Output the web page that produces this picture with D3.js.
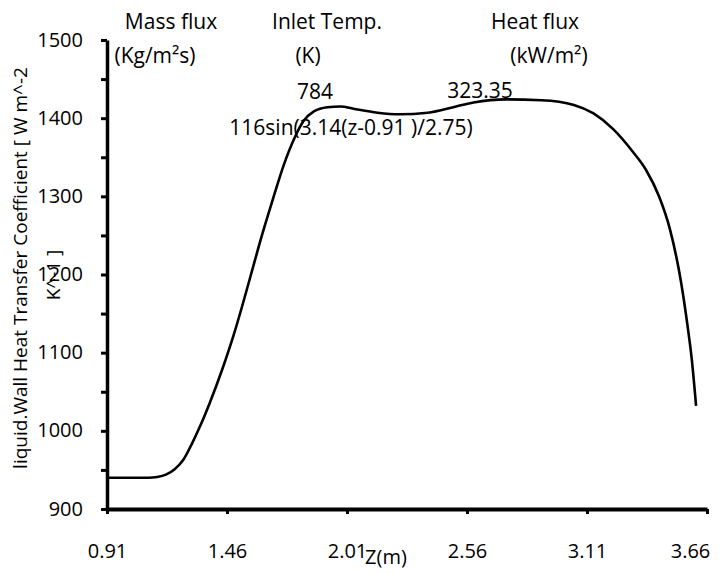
<!DOCTYPE html>
<html lang="en">
<head>
<meta charset="utf-8" />
<title>Wall heat transfer coefficient vs Z</title>
<style>
   body { margin:0; background:#fff; }
   svg { font-family:"Open Sans",sans-serif; }
   .axis path, .axis line { stroke:#000; }
   .axis text { font-size:20px; fill:#000; font-family:"Open Sans",sans-serif; }
   .note { font-size:21px; fill:#000; text-anchor:middle; }
   .title { font-size:19px; fill:#000; text-anchor:middle; }
</style>
<script src="https://d3js.org/d3.v7.min.js"></script>
</head>
<body>
<svg id="main" width="728" height="574"></svg>
<script>
// values: axial position z (m) and wall heat transfer coefficient
var zpos = [0.91,1.00,1.10,1.14,1.18,1.22,1.26,1.30,1.34,1.38,1.44,1.49,1.53,1.57,1.62,1.67,1.72,1.77,1.81,1.86,1.92,1.98,2.04,2.15,2.25,2.38,2.51,2.59,2.74,2.90,3.05,3.14,3.23,3.32,3.38,3.44,3.49,3.54,3.57,3.59,3.61];
var htc  = [940,940,940,941,944,951,963,984,1008,1035,1080,1122,1160,1200,1250,1296,1340,1375,1396,1409,1414,1415,1412,1407,1405,1407,1415,1420,1424,1423,1417,1406,1386,1357,1334,1300,1258,1192,1136,1092,1032];
var xticks = [0.91,1.46,2.01,2.56,3.11,3.66];
var yticks = d3.range(900,1501,50);

// annotation texts (condition labels)
var notes = [
   {t:'Mass flux', x:171, y:29},
   {t:'Inlet Temp.', x:327, y:29},
   {t:'Heat flux', x:535, y:29},
   {t:'(Kg/m²s)', x:155, y:63},
   {t:'(K)', x:308, y:63},
   {t:'(kW/m²)', x:549, y:63},
   {t:'784', x:315, y:99},
   {t:'323.35', x:480, y:98},
   {t:'116sin(3.14(z-0.91 )/2.75)', x:351, y:135}
];

var svg = d3.select('#main');
var x = d3.scaleLinear().domain([0.91,3.66]).range([107,707]);
var y = d3.scaleLinear().domain([900,1500]).range([509,40]);

//y axis, labels only every 100
var gy = svg.append('g').attr('class','axis').attr('transform','translate(107,0)')
   .call(d3.axisLeft(y).tickValues(yticks).tickSize(6).tickSizeOuter(0).tickPadding(18)
      .tickFormat(function(d) { return d%100===0 ? d : ''; }));
gy.select('path').style('stroke-width',3.5);
gy.selectAll('line').style('stroke-width',3);
gy.selectAll('text').attr('dy','0.3em');

//x axis
var gx = svg.append('g').attr('class','axis').attr('transform','translate(0,509)')
   .call(d3.axisBottom(x).tickValues(xticks).tickSize(5).tickSizeOuter(0).tickPadding(30)
      .tickFormat(d3.format('.2f')));
gx.select('path').style('stroke-width',4);
gx.selectAll('line').style('stroke-width',3);
gx.selectAll('text').filter(function(d) { return d===3.66; }).attr('dx',-17);

//the curve
var line = d3.line().x(function(d,i) { return x(zpos[i]); }).y(function(d) { return y(d); })
   .curve(d3.curveMonotoneX);
svg.append('path').datum(htc).attr('d',line)
   .style('fill','none').style('stroke','#000').style('stroke-width',2.6);

//annotations
svg.selectAll('text.note').data(notes).enter().append('text').attr('class','note')
   .attr('x',function(d) { return d.x; }).attr('y',function(d) { return d.y; })
   .text(function(d) { return d.t; });

//axis titles
svg.append('text').attr('class','title').attr('x',386).attr('y',564).style('font-size','20px').text('Z(m)');
var yt = svg.append('text').attr('class','title').attr('transform','translate(0,268) rotate(-90)');
yt.append('tspan').attr('x',0).attr('y',27).text('liquid.Wall Heat Transfer Coefficient [ W m^-2');
yt.append('tspan').attr('x',-7).attr('y',60).text('K^-1 ]');
</script>
</body>
</html>
